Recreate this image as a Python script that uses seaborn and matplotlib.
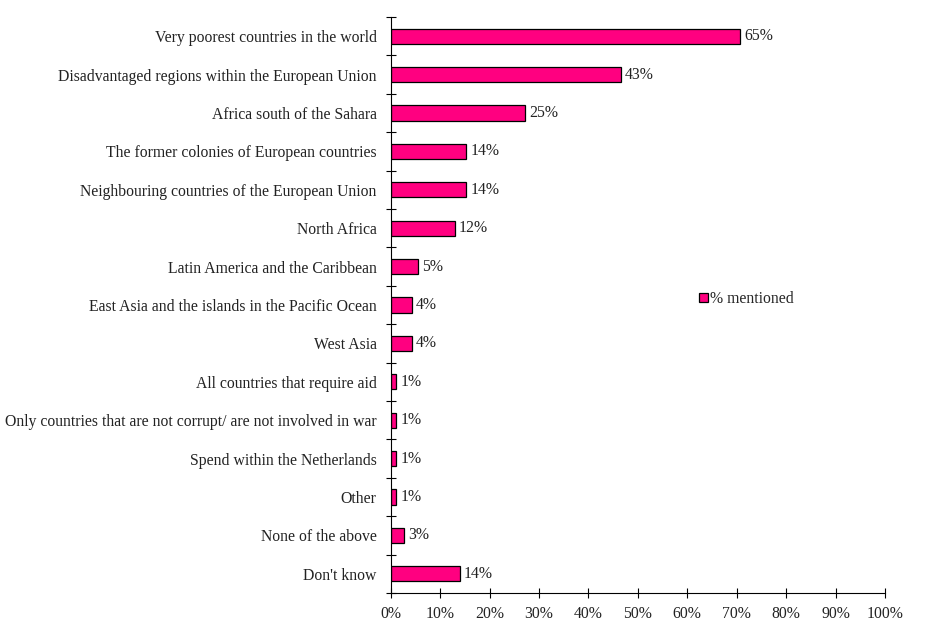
import numpy as np
import pandas as pd
import matplotlib
matplotlib.use("Agg")
import matplotlib.pyplot as plt
import seaborn as sns
from matplotlib.ticker import FixedLocator, PercentFormatter

categories = [
    "Very poorest countries in the world",
    "Disadvantaged regions within the European Union",
    "Africa south of the Sahara",
    "The former colonies of European countries",
    "Neighbouring countries of the European Union",
    "North Africa",
    "Latin America and the Caribbean",
    "East Asia and the islands in the Pacific Ocean",
    "West Asia",
    "All countries that require aid",
    "Only countries that are not corrupt/ are not involved in war",
    "Spend within the Netherlands",
    "Other",
    "None of the above",
    "Don't know",
]
# bar lengths as drawn in the source chart (read against the x axis)
bar_lengths = [70.7, 46.6, 27.2, 15.3, 15.3, 13.0, 5.5, 4.3, 4.3, 1.15, 1.15, 1.15, 1.15, 2.8, 14.0]
# the value labels printed next to the bars
value_labels = ["65%", "43%", "25%", "14%", "14%", "12%", "5%", "4%", "4%",
                "1%", "1%", "1%", "1%", "3%", "14%"]

sns.set_style("white")
plt.rcParams["font.family"] = ["Liberation Serif", "DejaVu Serif"]
plt.rcParams["font.size"] = 11.3

df = pd.DataFrame({"category": categories, "pct": bar_lengths})

fig = plt.figure(figsize=(9.47, 6.23), dpi=100)
ax = fig.add_axes([0.4125, 0.0482, 0.522, 0.9245])

sns.barplot(data=df, y="category", x="pct", orient="h", color="#FF0080",
            saturation=1, width=0.4, edgecolor="black", linewidth=0.9,
            ax=ax, label="% mentioned")

for i, (v, lab) in enumerate(zip(bar_lengths, value_labels)):
    ax.annotate(lab, (v, i), xytext=(3, 0), textcoords="offset points",
                va="center", ha="left", fontsize=11.3, color="#222222")

ax.set_xlim(0, 100)
ax.set_ylim(len(categories) - 0.5, -0.5)
ax.set_xticks(np.arange(0, 101, 10))
ax.xaxis.set_major_formatter(PercentFormatter(decimals=0))
ax.set_xlabel("")
ax.set_ylabel("")

for s in ["top", "right"]:
    ax.spines[s].set_visible(False)
for s in ["left", "bottom"]:
    ax.spines[s].set_color("black")
    ax.spines[s].set_linewidth(0.8)

# seaborn's white style switches tick marks off, turn them back on
ax.tick_params(axis="x", bottom=True, direction="inout", length=7, width=0.8, pad=6,
               colors="black", labelcolor="#222222")
ax.tick_params(axis="y", which="major", left=True, length=0, pad=10, labelcolor="#222222")
ax.yaxis.set_minor_locator(FixedLocator(np.arange(-0.5, len(categories), 1.0)))
ax.tick_params(axis="y", which="minor", left=True, direction="inout", length=7,
               width=0.8, color="black")

leg = ax.legend(loc="upper left", bbox_to_anchor=(0.595, 0.549), frameon=False,
                handlelength=0.55, handleheight=0.55, handletextpad=0.15, fontsize=11.3)

fig.savefig("out.png", dpi=100)
